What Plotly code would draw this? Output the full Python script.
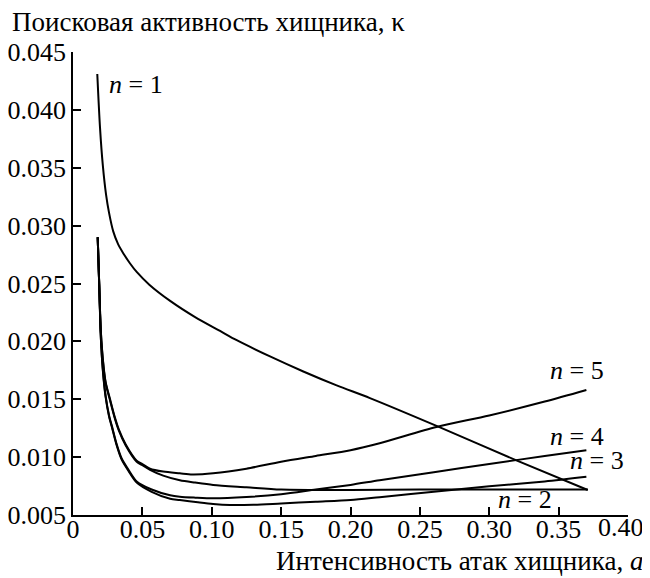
import plotly.graph_objects as go

# ---- data ----
x_n1 = [0.0175, 0.0195, 0.0215, 0.0238, 0.0260, 0.0290, 0.0325, 0.0363, 0.0410, 0.0459,
        0.0550, 0.0700, 0.0880, 0.1060, 0.1180, 0.1420, 0.1660, 0.1900, 0.2140,
        0.2620, 0.3200, 0.3710]
y_n1 = [0.0431, 0.0384, 0.0352, 0.0327, 0.0311, 0.0295, 0.0284, 0.0276, 0.02675, 0.0260,
        0.0249, 0.0235, 0.0221, 0.0209, 0.0201, 0.0187, 0.0174, 0.0162, 0.0151,
        0.0127, 0.0097, 0.00716]

x_n5 = [0.0178, 0.0190, 0.0200, 0.0215, 0.0235, 0.0267, 0.0300, 0.0330, 0.0380, 0.0459,
        0.0500, 0.0555, 0.0650, 0.0770, 0.0860, 0.1010, 0.1250, 0.1500, 0.1750, 0.2000,
        0.2210, 0.2620, 0.3000, 0.3400, 0.3700]
y_n5 = [0.0290, 0.0245, 0.0210, 0.0185, 0.0165, 0.0150, 0.0135, 0.0124, 0.0111, 0.0097,
        0.0094, 0.0090, 0.00875, 0.0086, 0.0085, 0.0086, 0.0090, 0.0096, 0.0101, 0.0106,
        0.0112, 0.0126, 0.0136, 0.0148, 0.0158]

x_n2 = [0.0178, 0.0190, 0.0200, 0.0215, 0.0235, 0.0267, 0.0300, 0.0330, 0.0380, 0.0459,
        0.0500, 0.0555, 0.0650, 0.0770, 0.0880, 0.1010, 0.1250, 0.1500, 0.2000, 0.2500,
        0.3000, 0.3710]
y_n2 = [0.0290, 0.0245, 0.0210, 0.0184, 0.0164, 0.0149, 0.0134, 0.0123, 0.0110, 0.0096,
        0.0093, 0.0089, 0.0084, 0.0080, 0.0078, 0.0076, 0.0074, 0.0072, 0.00716, 0.0072,
        0.0072, 0.0072]

x_n4 = [0.0178, 0.0190, 0.0200, 0.0215, 0.0235, 0.0260, 0.0280, 0.0315, 0.0350, 0.0400,
        0.0459, 0.0567, 0.0700, 0.0770, 0.0880, 0.1010, 0.1250, 0.1500, 0.1750, 0.2000,
        0.2210, 0.2600, 0.3000, 0.3400, 0.3700]
y_n4 = [0.0290, 0.0245, 0.0205, 0.0176, 0.0153, 0.0136, 0.0127, 0.0111, 0.0099, 0.0089,
        0.0079, 0.0072, 0.0067, 0.00658, 0.0065, 0.00644, 0.00655, 0.0068, 0.0072, 0.0076,
        0.0080, 0.0087, 0.0094, 0.0101, 0.0106]

x_n3 = [0.0178, 0.0190, 0.0200, 0.0215, 0.0235, 0.0260, 0.0280, 0.0315, 0.0350, 0.0400,
        0.0459, 0.0567, 0.0700, 0.0770, 0.0900, 0.1010, 0.1130, 0.1300, 0.1500, 0.1750,
        0.2000, 0.2210, 0.2600, 0.3000, 0.3400, 0.3700]
y_n3 = [0.0290, 0.0245, 0.0205, 0.0175, 0.0152, 0.0135, 0.0126, 0.0110, 0.0098, 0.0088,
        0.0078, 0.0070, 0.0064, 0.0063, 0.0061, 0.00595, 0.00586, 0.00588, 0.0060, 0.00615,
        0.0063, 0.00654, 0.0070, 0.00748, 0.0079, 0.0083]

x_ticks = [0, 0.05, 0.10, 0.15, 0.20, 0.25, 0.30, 0.35, 0.40]
x_tick_text = ["0", "0.05", "0.10", "0.15", "0.20", "0.25", "0.30", "0.35", "0.40"]
y_ticks = [0.005, 0.010, 0.015, 0.020, 0.025, 0.030, 0.035, 0.040, 0.045]
y_tick_text = ["0.005", "0.010", "0.015", "0.020", "0.025", "0.030", "0.035", "0.040", "0.045"]

labels = ["<i>n</i> = 1", "<i>n</i> = 5", "<i>n</i> = 4", "<i>n</i> = 3", "<i>n</i> = 2"]
label_x = [0.0245, 0.3425, 0.3420, 0.3570, 0.3050]
label_y = [0.0422, 0.01745, 0.01175, 0.00975, 0.00635]

y_title = "Поисковая активность хищника, κ"
x_title = "Интенсивность атак хищника, <i>a</i>"

FONT = "'Liberation Serif', 'Times New Roman', serif"

fig = go.Figure()
for xs, ys in [(x_n1, y_n1), (x_n5, y_n5), (x_n2, y_n2), (x_n4, y_n4), (x_n3, y_n3)]:
    fig.add_trace(go.Scatter(x=xs, y=ys, mode="lines",
                             line=dict(color="black", width=2, shape="spline", smoothing=0.8),
                             showlegend=False, hoverinfo="skip"))

for t, lx, ly in zip(labels, label_x, label_y):
    fig.add_annotation(x=lx, y=ly, xref="x", yref="y", text=t, showarrow=False,
                       xanchor="left", yanchor="middle",
                       font=dict(family=FONT, size=26, color="black"))

fig.add_annotation(x=-0.1135, y=1.065, xref="paper", yref="paper", text=y_title,
                   showarrow=False, xanchor="left", yanchor="middle",
                   font=dict(family=FONT, size=27, color="black"))
fig.add_annotation(x=1.031, y=-0.0994, xref="paper", yref="paper", text=x_title,
                   showarrow=False, xanchor="right", yanchor="middle",
                   font=dict(family=FONT, size=27, color="black"))

# the last x tick label sits slightly left of its tick (it meets the page edge)
shown_x_text = x_tick_text[:-1] + [""]
fig.add_annotation(x=x_ticks[-1], y=-0.028, xref="x", yref="paper", text=x_tick_text[-1],
                   showarrow=False, xanchor="center", yanchor="middle", xshift=-7,
                   font=dict(family=FONT, size=26, color="black"))

axis_common = dict(showline=True, linecolor="black", linewidth=1.5, ticks="inside",
                   ticklen=8, tickwidth=1.5, tickcolor="black", showgrid=False,
                   zeroline=False, automargin=False, ticklabeloverflow="allow",
                   tickfont=dict(family=FONT, size=26, color="black"))
fig.update_xaxes(range=[0, 0.40], tickvals=x_ticks, ticktext=shown_x_text,
                 ticklabelstandoff=-10, **axis_common)
fig.update_yaxes(range=[0.005, 0.045], tickvals=y_ticks, ticktext=y_tick_text, **axis_common)

# page body has an 8px margin, so the figure is 8px smaller and shifted
fig.update_layout(width=642, height=570, autosize=False,
                  margin=dict(l=65, r=22, t=44, b=63),
                  font=dict(family=FONT),
                  paper_bgcolor="white", plot_bgcolor="white")

fig.write_html("out.html")
